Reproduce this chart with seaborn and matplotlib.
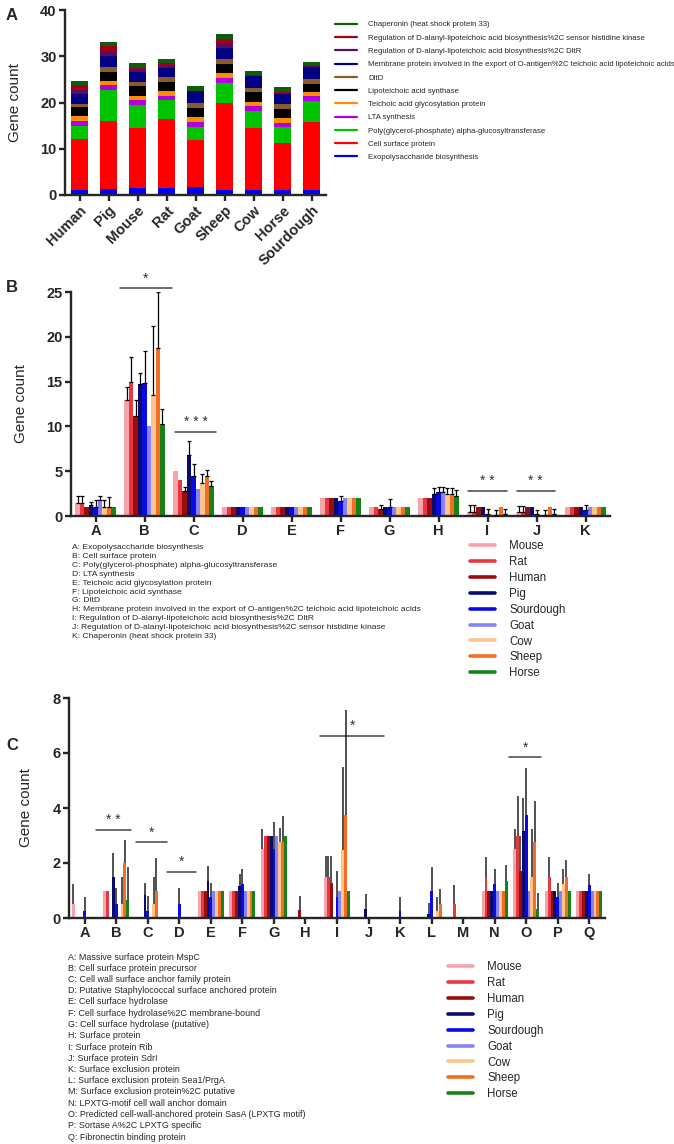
import numpy as np
import pandas as pd
import matplotlib
matplotlib.use('Agg')
import matplotlib.pyplot as plt
from matplotlib.lines import Line2D
import seaborn as sns

sns.set_style('ticks')
plt.rcParams['font.family'] = ['Liberation Sans', 'DejaVu Sans']

# ---- data ----
hosts = ['Mouse', 'Rat', 'Human', 'Pig', 'Sourdough', 'Goat', 'Cow', 'Sheep', 'Horse']
host_colors = ['#F7A3AA', '#E8383F', '#990D0D', '#0B0B6B', '#0A0AE6',
               '#8484F5', '#FDC48E', '#F26E22', '#17821A']
order_a = ['Human', 'Pig', 'Mouse', 'Rat', 'Goat', 'Sheep', 'Cow', 'Horse', 'Sourdough']

cats_b = list('ABCDEFGHIJK')
names_b = ['Exopolysaccharide biosynthesis',
           'Cell surface protein',
           'Poly(glycerol-phosphate) alpha-glucosyltransferase',
           'LTA synthesis',
           'Teichoic acid glycosylation protein',
           'Lipoteichoic acid synthase',
           'DltD',
           'Membrane protein involved in the export of O-antigen%2C teichoic acid lipoteichoic acids',
           'Regulation of D-alanyl-lipoteichoic acid biosynthesis%2C DltR',
           'Regulation of D-alanyl-lipoteichoic acid biosynthesis%2C sensor histidine kinase',
           'Chaperonin (heat shock protein 33)']
colors_a = ['#0000F0', '#FF0000', '#00C400', '#B000E0', '#FF8C00', '#000000',
            '#8B5A2B', '#000080', '#5E0A5E', '#A00018', '#0E5E0E']

# rows = categories A..K, columns = hosts
mean_b = [[1.5, 1.5, 1.0, 1.2, 1.0, 1.8, 1.0, 1.0, 1.0],
          [13.0, 15.0, 11.2, 14.7, 14.8, 10.0, 13.5, 18.8, 10.3],
          [5.0, 4.0, 2.8, 6.8, 4.5, 3.0, 3.7, 4.5, 3.3],
          [1, 1, 1, 1, 1, 1, 1, 1, 1],
          [1, 1, 1, 1, 1, 1, 1, 1, 1],
          [2, 2, 2, 2, 1.7, 2, 2, 2, 2],
          [1, 1, 0.75, 1, 1, 1, 1, 1, 1],
          [2, 2, 2, 2.45, 2.7, 2.7, 2.5, 2.5, 2.25],
          [0.5, 0.5, 1, 1, 0.2, 0, 0.1, 1, 0.2],
          [0.5, 0.5, 1, 1, 0.2, 0, 0.1, 1, 0.2],
          [1, 1, 1, 1, 0.7, 1, 1, 1, 1]]
err_b = [[0.7, 0.7, 0, 0.4, 0.8, 0.4, 0.8, 1.1, 0],
         [1.4, 2.8, 1.8, 1.3, 3.6, 0, 7.7, 6.2, 1.6],
         [0, 0, 0.4, 1.6, 1.3, 0, 1.0, 0.6, 0.6],
         [0] * 9,
         [0] * 9,
         [0, 0, 0, 0, 0.55, 0, 0, 0, 0],
         [0, 0, 0.5, 0, 0.85, 0, 0, 0, 0],
         [0, 0, 0, 0.65, 0.5, 0.5, 0.6, 0.6, 0.65],
         [0.7, 0.7, 0, 0, 0.55, 0, 0.6, 0, 0.55],
         [0.65, 0.65, 0, 0, 0.5, 0, 0.6, 0, 0.6],
         [0, 0, 0, 0, 0.5, 0, 0, 0, 0]]
sig_b = [('*', 0.5, 1.56, 25.4), ('* * *', 1.63, 2.45, 9.4),
         ('* *', 7.61, 8.39, 2.83), ('* *', 8.6, 9.37, 2.83)]

cats_c = list('ABCDEFGHIJKLMNOPQ')
names_c = ['Massive surface protein MspC',
           'Cell surface protein precursor',
           'Cell wall surface anchor family protein',
           'Putative Staphylococcal surface anchored protein',
           'Cell surface hydrolase',
           'Cell surface hydrolase%2C membrane-bound',
           'Cell surface hydrolase (putative)',
           'Surface protein',
           'Surface protein Rib',
           'Surface protein SdrI',
           'Surface exclusion protein',
           'Surface exclusion protein Sea1/PrgA',
           'Surface exclusion protein%2C putative',
           'LPXTG-motif cell wall anchor domain',
           'Predicted cell-wall-anchored protein SasA (LPXTG motif)',
           'Sortase A%2C LPXTG specific',
           'Fibronectin binding protein']
mean_c = [[0.5, 0, 0, 0, 0.25, 0, 0, 0, 0],
          [1, 1, 0, 1.5, 0.5, 0, 0.5, 2.0, 0.67],
          [0, 0, 0, 0.83, 0.25, 0, 0.5, 1.0, 0],
          [0, 0, 0, 0, 0.5, 0, 0, 0, 0],
          [1, 1, 1, 1.33, 0.75, 1, 1, 1, 1],
          [1, 1, 1, 1.17, 1.25, 1, 1, 1, 1],
          [2.5, 3, 3, 3, 2.5, 3, 2.75, 2.75, 3],
          [0, 0, 0.3, 0, 0, 0, 0, 0, 0],
          [1.5, 1.5, 1.27, 0, 0.75, 1.0, 2.48, 3.75, 1.0],
          [0, 0, 0, 0.33, 0, 0, 0, 0, 0],
          [0, 0, 0, 0, 0.25, 0, 0, 0, 0],
          [0, 0, 0, 0.15, 1.0, 0, 0.25, 0.5, 0],
          [0, 0.5, 0, 0, 0, 0, 0, 0, 0],
          [1, 1.5, 1, 1, 1.25, 1, 1, 1, 1.33],
          [2.5, 3.0, 1.7, 3.15, 3.75, 1.0, 1.5, 2.75, 0.33],
          [1, 1.5, 1, 1, 0.75, 1, 1.25, 1.5, 1],
          [1, 1, 1, 1, 1.2, 1, 1, 1, 1]]
err_c = [[0.75, 0, 0, 0, 0.5, 0, 0, 0, 0],
         [0, 0, 0, 0.87, 0.6, 0, 1.0, 0.83, 1.17],
         [0, 0, 0, 0.45, 0.55, 0, 1.0, 1.18, 0],
         [0, 0, 0, 0, 0.6, 0, 0, 0, 0],
         [0, 0, 0, 0.55, 0.52, 0, 0, 0, 0],
         [0, 0, 0, 0.43, 0.53, 0, 0, 0, 0],
         [0.74, 0, 0, 0, 1.0, 0, 0.52, 0.97, 0],
         [0, 0, 0.5, 0, 0, 0, 0, 0, 0],
         [0.74, 0.74, 0.97, 0, 0.97, 0, 3.0, 3.8, 0],
         [0, 0, 0, 0.55, 0, 0, 0, 0, 0],
         [0, 0, 0, 0, 0.5, 0, 0, 0, 0],
         [0, 0, 0, 0.4, 0.85, 0, 0.5, 0.57, 0],
         [0, 0.7, 0, 0, 0, 0, 0, 0, 0],
         [0, 0.73, 0, 0, 0.52, 0, 0, 0, 0.6],
         [0.74, 1.42, 1.3, 1.2, 1.7, 0, 1.74, 1.52, 0.58],
         [0, 0.73, 0, 0, 0.52, 0, 0.52, 0.6, 0],
         [0, 0, 0, 0, 0.4, 0, 0, 0, 0]]
sig_c = [('* *', 0.36, 1.46, 3.21), ('*', 1.63, 2.6, 2.76), ('*', 2.6, 3.52, 1.68),
         ('*', 7.47, 9.5, 6.63), ('*', 13.47, 14.47, 5.85)]

# ---- layout helpers ----
W, H = 674, 1144
fig = plt.figure(figsize=(W / 100, H / 100), dpi=100)


def px_axes(l, t, r, b):
    return fig.add_axes([l / W, 1 - b / H, (r - l) / W, (b - t) / H])


def style(ax, ylabel_x):
    sns.despine(ax=ax)
    for s in ['left', 'bottom']:
        ax.spines[s].set_linewidth(1.7)
    ax.tick_params(width=1.7, length=4, labelsize=10.5, pad=2)
    for lab in ax.get_xticklabels() + ax.get_yticklabels():
        lab.set_fontweight('bold')
    ax.set_xlabel('')
    ax.set_ylabel('Gene count', fontsize=11)
    ax.yaxis.set_label_coords(ylabel_x, 0.5)


def long_df(means, cats):
    rows = []
    for ci, c in enumerate(cats):
        for hi, h in enumerate(hosts):
            rows.append((c, h, means[ci][hi]))
    return pd.DataFrame(rows, columns=['cat', 'host', 'count'])


def grouped(ax, means, errs, cats, width, capsize, elw, ecolor):
    df = long_df(means, cats)
    sns.barplot(data=df, x='cat', y='count', hue='host', order=cats,
                hue_order=hosts, palette=host_colors, width=width, saturation=1,
                errorbar=None, linewidth=0, legend=False, ax=ax)
    n = len(hosts)
    bw = width / n
    for p in list(ax.patches):
        cx = p.get_x() + p.get_width() / 2
        ci = int(round(cx))
        hi = int(round((cx - ci) / bw + (n - 1) / 2))
        e = errs[ci][hi]
        if e > 0:
            ax.errorbar(cx, p.get_height(), yerr=[[0], [e]], fmt='none',
                        ecolor=ecolor, elinewidth=elw, capsize=capsize,
                        capthick=elw, zorder=3)
    ax.set_xlim(-0.5, len(cats) - 0.5)


def sig(ax, items, dy):
    for lab, x0, x1, y in items:
        ax.plot([x0, x1], [y, y], color='#444444', lw=1.1, clip_on=False)
        ax.text((x0 + x1) / 2, y + dy, lab, ha='center', va='bottom',
                fontsize=10, color='#333333', clip_on=False)


def host_legend(x, y):
    handles = [Line2D([], [], color=c, lw=2.6) for c in host_colors]
    fig.legend(handles, hosts, loc='upper left', bbox_to_anchor=(x / W, 1 - y / H),
               frameon=False, fontsize=8.3, handlelength=2.2, handletextpad=1.2,
               labelspacing=0.34, borderpad=0, borderaxespad=0)


# ---- panel A ----
axA = px_axes(65, 10, 326, 195)
dfa = pd.DataFrame(mean_b, index=cats_b, columns=hosts)[order_a]
cum = dfa.cumsum(axis=0)
for i in range(len(cats_b) - 1, -1, -1):
    sns.barplot(x=order_a, y=cum.iloc[i].values, color=colors_a[i], width=0.62,
                saturation=1, linewidth=0, ax=axA)
axA.set_ylim(0, 40)
axA.set_yticks([0, 10, 20, 30, 40])
axA.set_xlim(-0.5, 8.5)
style(axA, -0.165)
plt.setp(axA.get_xticklabels(), rotation=45, ha='right', rotation_mode='anchor')
handles = [Line2D([], [], color=c, lw=1.6) for c in colors_a[::-1]]
fig.legend(handles, names_b[::-1], loc='upper left', bbox_to_anchor=(335 / W, 1 - 21 / H),
           frameon=False, fontsize=5.6, handlelength=2.8, handletextpad=1.5,
           labelspacing=0.75, borderpad=0, borderaxespad=0)

# ---- panel B ----
axB = px_axes(71, 292, 610, 516)
grouped(axB, mean_b, err_b, cats_b, 0.82, 1.2, 0.9, 'black')
axB.set_ylim(0, 25)
axB.set_yticks([0, 5, 10, 15, 20, 25])
style(axB, -0.08)
sig(axB, sig_b, 0.3)
for i, (c, n) in enumerate(zip(cats_b, names_b)):
    fig.text(72 / W, 1 - (548 + 8.8 * i) / H, f'{c}: {n}', fontsize=6.1, va='center')
host_legend(470, 540)

# ---- panel C ----
axC = px_axes(69, 698, 605, 918)
grouped(axC, mean_c, err_c, cats_c, 0.82, 0, 1.1, '#222222')
axC.set_ylim(0, 8)
axC.set_yticks([0, 2, 4, 6, 8])
style(axC, -0.067)
sig(axC, sig_c, 0.1)
for i, (c, n) in enumerate(zip(cats_c, names_c)):
    fig.text(68 / W, 1 - (957 + 11.25 * i) / H, f'{c}: {n}', fontsize=6.4, va='center')
host_legend(448, 961)

for lab, y in [('A', 15), ('B', 287), ('C', 745)]:
    fig.text(6 / W, 1 - y / H, lab, fontsize=12, fontweight='bold', va='center')

fig.savefig('out.png', dpi=100)
